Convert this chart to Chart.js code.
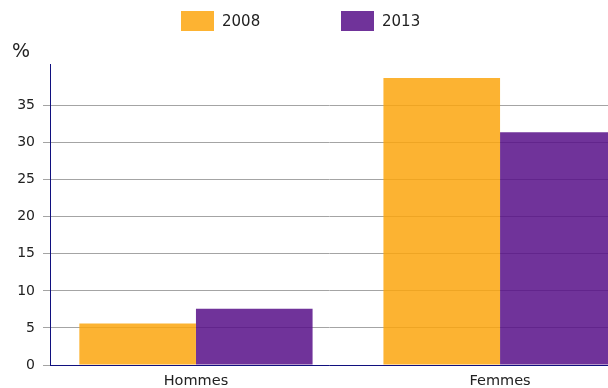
<!DOCTYPE html>
<html>
<head>
<meta charset="utf-8">
<script src="https://cdn.jsdelivr.net/npm/chart.js@4.4.1/dist/chart.umd.min.js"></script>
<style>
  html, body { margin: 0; padding: 0; background: #fff; overflow: hidden; }
  #wrap { position: relative; width: 608px; height: 388px; font-family: "DejaVu Sans", Verdana, sans-serif; }
  #chart { position: absolute; left: 0; top: 0; }
  .unit { position: absolute; left: 12px; top: 39px; font-size: 19px; color: #222; }
  .leg { position: absolute; top: 11px; height: 20px; display: flex; align-items: center; font-size: 15px; color: #222; }
  .leg i { display: inline-block; width: 33px; height: 20px; margin-right: 8px; }
</style>
</head>
<body>
<div id="wrap">
  <canvas id="chart" width="608" height="388"></canvas>
  <div class="unit">%</div>
  <div id="legend"></div>
</div>
<script>
// Share of people by sex, 2008 vs 2013 (%)
const categories = ['Hommes', 'Femmes'];
const seriesNames = ['2008', '2013'];
const values2008 = [5.6, 38.7];
const values2013 = [7.6, 31.4];
const yTicks = [0, 5, 10, 15, 20, 25, 30, 35];

const fills = ['rgba(252,166,14,0.85)', 'rgba(87,15,136,0.85)'];
const swatches = ['#fdb332', '#70339a'];
const series = [values2008, values2013];

// HTML legend
const legendPos = [181, 341];
const legend = document.getElementById('legend');
seriesNames.forEach((name, i) => {
  const d = document.createElement('div');
  d.className = 'leg';
  d.style.left = legendPos[i] + 'px';
  d.innerHTML = '<i style="background:' + swatches[i] + '"></i><span>' + name + '</span>';
  legend.appendChild(d);
});

const navy = '#10107f';

new Chart(document.getElementById('chart'), {
  type: 'bar',
  data: {
    datasets: series.map((vals, i) => ({
      label: seriesNames[i],
      data: categories.map((c, k) => ({ x: k, y: vals[k] })),
      backgroundColor: fills[i],
      borderWidth: 0,
      categoryPercentage: 0.767,
      barPercentage: 1
    }))
  },
  options: {
    responsive: false,
    animation: false,
    events: [],
    layout: { padding: { top: 64, left: 0, right: 0, bottom: 0 } },
    plugins: { legend: { display: false }, tooltip: { enabled: false } },
    scales: {
      x: {
        type: 'linear',
        offset: false,
        min: -0.48,
        max: 1.355,
        grid: { display: false, drawTicks: false },
        border: { display: true, color: navy, width: 1 },
        afterBuildTicks: s => { s.ticks = categories.map((c, k) => ({ value: k })); },
        afterFit: s => { s.height = 23; },
        ticks: {
          padding: 8,
          color: '#222',
          font: { family: '"DejaVu Sans", Verdana, sans-serif', size: 14.5 },
          callback: v => categories[v]
        }
      },
      y: {
        min: 0,
        max: 40.6,
        afterBuildTicks: s => { s.ticks = yTicks.map(v => ({ value: v })); },
        afterFit: s => { s.width = 50; },
        grid: { color: '#a4a4a4', lineWidth: 1, tickLength: 7 },
        border: { display: true, color: navy, width: 1 },
        ticks: {
          padding: 8,
          color: '#222',
          font: { family: '"DejaVu Sans", Verdana, sans-serif', size: 14 }
        }
      }
    }
  }
});
</script>
</body>
</html>
